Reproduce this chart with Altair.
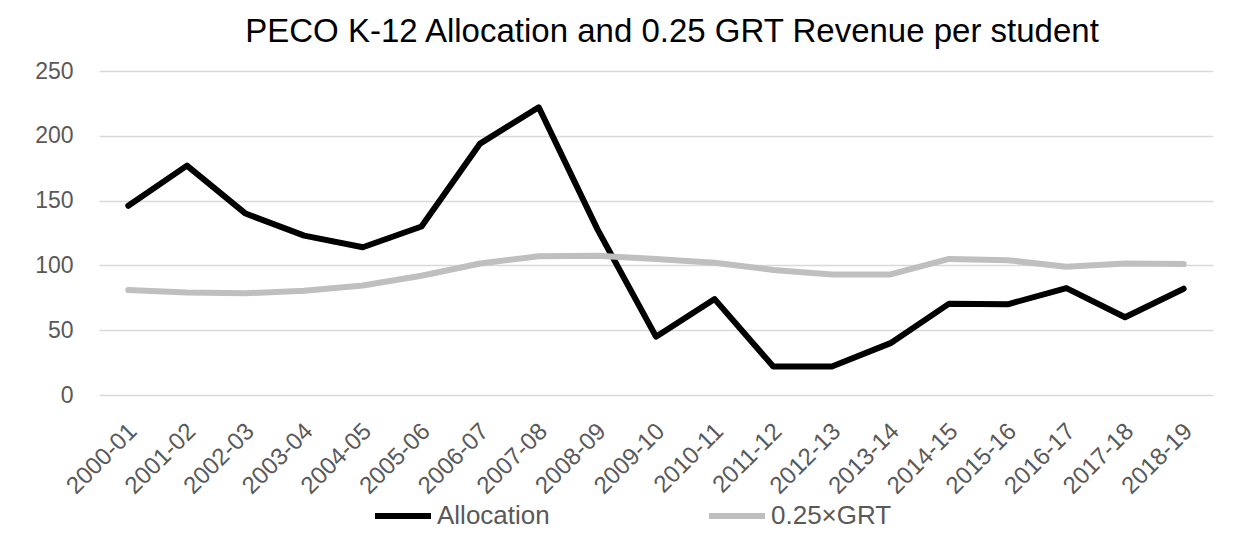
import altair as alt
import pandas as pd

years = ["2000-01", "2001-02", "2002-03", "2003-04", "2004-05", "2005-06", "2006-07",
         "2007-08", "2008-09", "2009-10", "2010-11", "2011-12", "2012-13", "2013-14",
         "2014-15", "2015-16", "2016-17", "2017-18", "2018-19"]
allocation = [146, 177, 140, 123, 114, 130, 194, 222, 128, 45, 74, 22, 22, 40, 70.5, 70, 82.5, 60, 82]
grt = [81, 79, 78.5, 80.5, 84.5, 92, 101.5, 107, 107.5, 105, 102, 96.5, 93, 93, 105, 104, 99, 101.5, 101]
series = ["Allocation", "0.25×GRT"]
colors = ["#000000", "#bfbfbf"]

rows = []
for i, y in enumerate(years):
    rows.append({"year": y, "series": series[0], "value": allocation[i], "order": 0})
    rows.append({"year": y, "series": series[1], "value": grt[i], "order": 1})
df = pd.DataFrame(rows)

FONT = "Liberation Sans"
TXT = "#595959"

chart = alt.Chart(df).mark_line(strokeWidth=6, strokeCap="round", strokeJoin="round").encode(
    x=alt.X("year:N", sort=years, title=None,
            scale=alt.Scale(paddingInner=0, paddingOuter=0),
            axis=alt.Axis(labelAngle=-45, labelFontSize=24, labelColor=TXT, labelFont=FONT,
                          ticks=False, domain=False, grid=False, labelPadding=24,
                          labelOffset=-4)),
    y=alt.Y("value:Q", title=None,
            scale=alt.Scale(domain=[0, 250], nice=False),
            axis=alt.Axis(values=[0, 50, 100, 150, 200, 250], labelFontSize=23, labelColor=TXT,
                          labelFont=FONT, ticks=False, domain=False, gridColor="#d9d9d9",
                          gridWidth=1.3, labelPadding=26)),
    color=alt.Color("series:N", scale=alt.Scale(domain=series, range=colors),
                    legend=alt.Legend(title=None, orient="none", direction="horizontal",
                                      legendX=273, legendY=414, symbolType="stroke",
                                      symbolSize=3136, symbolStrokeWidth=6,
                                      labelFontSize=26, labelColor=TXT, labelFont=FONT,
                                      labelOffset=3, columnPadding=147, padding=0)),
    order="order:Q",
    detail="series:N",
).properties(
    width=1114, height=324,
    title=alt.TitleParams("PECO K-12 Allocation and 0.25 GRT Revenue per student",
                          fontSize=33, font=FONT, fontWeight="normal", color="#000000",
                          anchor="middle", dx=16, offset=11),
    autosize=alt.AutoSizeParams(type="none"),
    padding={"left": 91, "top": 63, "right": 28, "bottom": 140},
).configure_view(stroke=None)

chart.save("out.html", embed_options={"renderer": "svg", "actions": False})
